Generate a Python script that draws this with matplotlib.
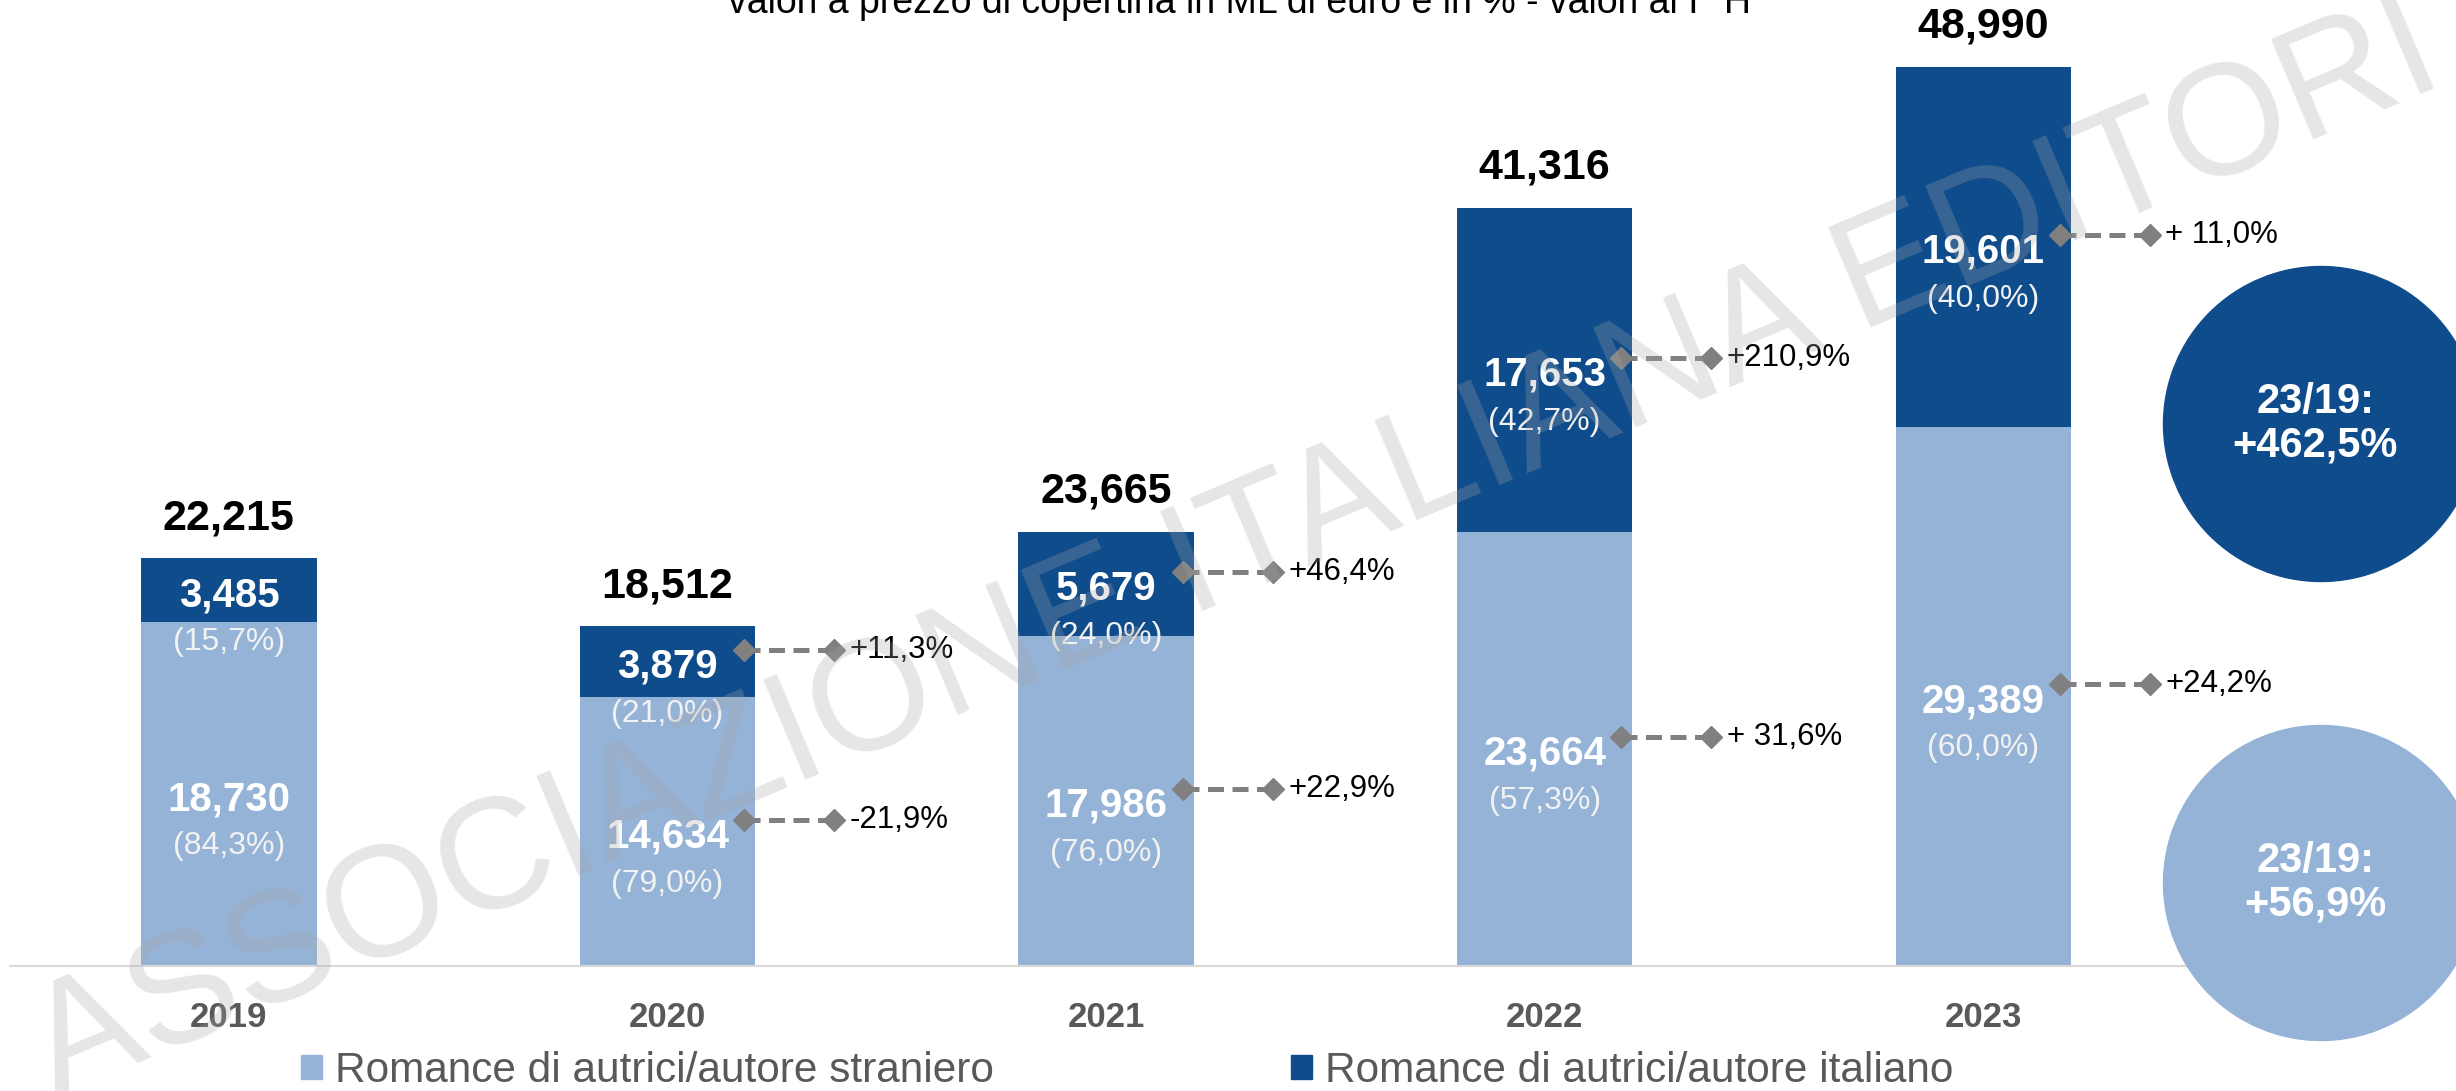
import matplotlib
matplotlib.use('Agg')
import matplotlib.pyplot as plt
import numpy as np
from matplotlib.patches import Ellipse, Patch
from matplotlib.transforms import offset_copy

plt.rcParams['font.family'] = ['Liberation Sans', 'DejaVu Sans']

# dati (ML di euro)
years = ['2019', '2020', '2021', '2022', '2023']
straniero = [18730, 14634, 17986, 23664, 29389]
italiano = [3485, 3879, 5679, 17653, 19601]
totali = [22215, 18512, 23665, 41316, 48990]
quota_straniero = ['(84,3%)', '(79,0%)', '(76,0%)', '(57,3%)', '(60,0%)']
quota_italiano = ['(15,7%)', '(21,0%)', '(24,0%)', '(42,7%)', '(40,0%)']
var_straniero = [None, '-21,9%', '+22,9%', '+ 31,6%', '+24,2%']
var_italiano = [None, '+11,3%', '+46,4%', '+210,9%', '+ 11,0%']
circ_labels = ['23/19:\n+462,5%', '23/19:\n+56,9%']
legend_labels = ['Romance di autrici/autore straniero', 'Romance di autrici/autore italiano']
subtitle = 'valori a prezzo di copertina in ML di euro e in % - valori al I° H'
watermark = 'ASSOCIAZIONE ITALIANA EDITORI'

light = '#95B3D7'
dark = '#0F4C8C'
grey = '#808080'

W, H = 2456, 1091
base = 966  # pixel row of the baseline

fig = plt.figure(figsize=(W / 100, H / 100), dpi=100)
ax = fig.add_axes([0, 1 - base / H, 1, base / H])

x = np.arange(len(years))
bw = 0.4
ax.bar(x, straniero, width=bw, color=light, zorder=2)
ax.bar(x, italiano, width=bw, bottom=straniero, color=dark, zorder=2)
ax.set_xlim(-0.522, 5.078)
ax.set_ylim(0, 52640)

for s in ['top', 'right', 'left']:
    ax.spines[s].set_visible(False)
ax.spines['bottom'].set_color('#D9D9D9')
ax.spines['bottom'].set_linewidth(1.5)
ax.spines['bottom'].set_bounds(-0.5, 4.9)
ax.set_yticks([])
ax.set_xticks(x, years)
ax.tick_params(axis='x', length=0, pad=25, labelsize=25, labelcolor='#595959')
for lbl in ax.get_xticklabels():
    lbl.set_fontweight('bold')


def shifted(dy):
    return offset_copy(ax.transData, fig=fig, x=0, y=dy, units='dots')


for i in x:
    ax.text(i, totali[i], f'{totali[i]:,}', transform=shifted(40),
            ha='center', va='center', fontsize=31, fontweight='bold', color='black')

    segs = [(straniero[i] / 2, straniero[i], quota_straniero[i], var_straniero[i]),
            (straniero[i] + italiano[i] / 2, italiano[i], quota_italiano[i], var_italiano[i])]
    for mid, val, quota, var in segs:
        ax.text(i, mid, f'{val:,}', transform=shifted(-5), ha='center', va='center',
                fontsize=29, fontweight='bold', color='white', zorder=5)
        ax.text(i, mid, quota, transform=shifted(-52), ha='center', va='center',
                fontsize=23, color='#F2F2F2', zorder=5)
        if var is not None:
            x0 = i + bw / 2 - 0.025
            x1 = i + bw / 2 + 0.18
            ax.plot([x0, x1], [mid, mid], transform=shifted(12), color=grey, lw=3.6,
                    ls=(0, (3.2, 1.7)), marker='D', ms=11, clip_on=False, zorder=4)
            ax.text(x1 + 0.035, mid, var, transform=shifted(12), ha='left', va='center',
                    fontsize=22.5, color='black')

# cerchi variazione 23/19
for (cy, col), lab in zip([(424, dark), (883, light)], circ_labels):
    fig.add_artist(Ellipse((2321 / W, 1 - cy / H), 315 / W, 315 / H,
                           transform=fig.transFigure, color=col, zorder=1))
    fig.text(2315 / W, 1 - cy / H, lab, ha='center', va='center', fontsize=30,
             fontweight='bold', color='white', linespacing=1.1, zorder=2)

handles = [Patch(color=light), Patch(color=dark)]
leg = fig.legend(handles, legend_labels, loc='center left',
                 bbox_to_anchor=(301 / W, 1 - 1071 / H), ncol=2, frameon=False,
                 fontsize=30.5, handlelength=0.5, handleheight=0.5, handletextpad=0.31,
                 columnspacing=7.0, borderpad=0, borderaxespad=0)
for t in leg.get_texts():
    t.set_color('#595959')

fig.text(1240 / W, 1 - 13 / H, subtitle, ha='center', va='baseline', fontsize=27)

fig.text(1236 / W, 1 - 553 / H, watermark, rotation=23, rotation_mode='anchor',
         ha='center', va='center', fontsize=114, color='#A6A6A6', alpha=0.28, zorder=10)

fig.savefig('out.png', dpi=100)
